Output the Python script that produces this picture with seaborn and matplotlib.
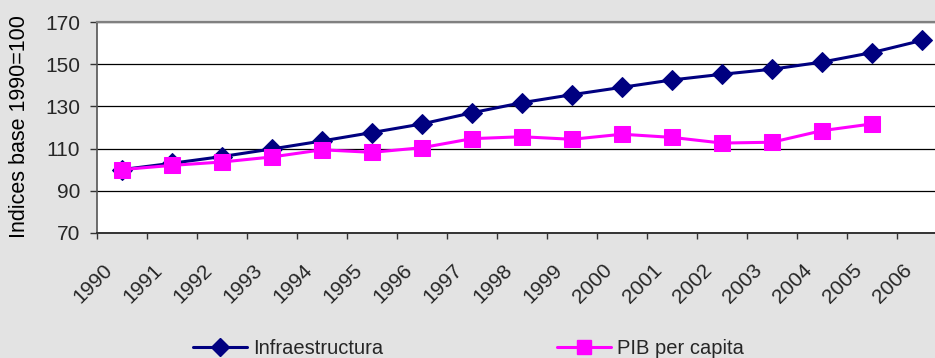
import matplotlib
matplotlib.use("Agg")
import matplotlib.pyplot as plt
import matplotlib.transforms as mtransforms
from matplotlib.lines import Line2D
import numpy as np
import pandas as pd
import seaborn as sns

years = [str(y) for y in range(1990, 2007)]
infraestructura = [100.0, 103.0, 106.2, 109.8, 113.6, 117.6, 121.7, 127.0, 131.8,
                   135.6, 139.1, 142.6, 145.3, 147.7, 151.1, 155.6, 161.4]
pib_per_capita = [100.0, 102.0, 103.6, 106.0, 109.4, 108.2, 110.4, 114.7, 115.6,
                  114.4, 116.8, 115.3, 112.6, 113.0, 118.5, 121.7]
y_ticks = [70, 90, 110, 130, 150, 170]

navy = "#000080"
magenta = "#FF00FF"
bg = "#E3E3E3"

sns.set_theme(style="white")
plt.rcParams["font.family"] = ["Liberation Sans", "DejaVu Sans"]

fig = plt.figure(figsize=(9.35, 3.58), dpi=100, facecolor=bg)
ax = fig.add_axes([97 / 935, 1 - 232.7 / 358, 850 / 935, 210.4 / 358])
ax.set_facecolor("white")

pos = np.arange(len(years))
df_inf = pd.DataFrame({"x": pos, "v": infraestructura})
df_pib = pd.DataFrame({"x": pos[:len(pib_per_capita)], "v": pib_per_capita})

sns.lineplot(data=df_inf, x="x", y="v", ax=ax, color=navy, linewidth=2.2,
             marker="D", markersize=10, markeredgecolor=navy, estimator=None,
             sort=False, zorder=3)
sns.lineplot(data=df_pib, x="x", y="v", ax=ax, color=magenta, linewidth=2.2,
             marker="s", markersize=11.5, markeredgecolor=magenta, estimator=None,
             sort=False, zorder=4)

ax.set_xlim(-0.5, len(years) - 0.5)
ax.set_ylim(70, 170)
ax.set_yticks(y_ticks)
ax.set_yticklabels([str(t) for t in y_ticks], fontsize=15)
ax.yaxis.grid(True, color="black", linewidth=0.9)
ax.set_axisbelow(True)

# category labels at centres, tick marks on the boundaries
ax.set_xticks(pos)
ax.set_xticks(np.arange(-0.5, len(years)), minor=True)
ax.set_xticklabels(years, fontsize=15, rotation=45, ha="right", va="top")
ax.tick_params(axis="x", which="major", length=0, pad=20)
ax.tick_params(axis="x", which="minor", bottom=True, length=4.5, width=1, color="#333333")
ax.tick_params(axis="y", left=True, length=5, width=1, color="#333333", pad=7)
shift = mtransforms.ScaledTranslation(-6 / 100, 0, fig.dpi_scale_trans)
for lab in ax.get_xticklabels():
    lab.set_transform(lab.get_transform() + shift)

ax.set_xlabel("")
ax.set_ylabel("Indices base 1990=100", fontsize=15.5, color="black")
ax.yaxis.set_label_coords(-0.079, 0.505)

ax.spines["right"].set_visible(False)
ax.spines["top"].set_color("#808080")
ax.spines["top"].set_linewidth(1.6)
ax.spines["left"].set_color("#555555")
ax.spines["left"].set_linewidth(1.2)
ax.spines["bottom"].set_color("#333333")
ax.spines["bottom"].set_linewidth(1.4)

handles = [
    Line2D([], [], color=navy, linewidth=2.2, marker="D", markersize=9),
    Line2D([], [], color=magenta, linewidth=2.2, marker="s", markersize=10),
]
fig.legend(handles, ["Infraestructura", "PIB per capita"], ncol=2, frameon=False,
           loc="center left", bbox_to_anchor=(193 / 935, 1 - 349 / 358),
           fontsize=14.5, handlelength=2.7, handletextpad=0.3, columnspacing=8.6,
           borderpad=0, borderaxespad=0)

fig.savefig("out.png", dpi=100, facecolor=bg)
